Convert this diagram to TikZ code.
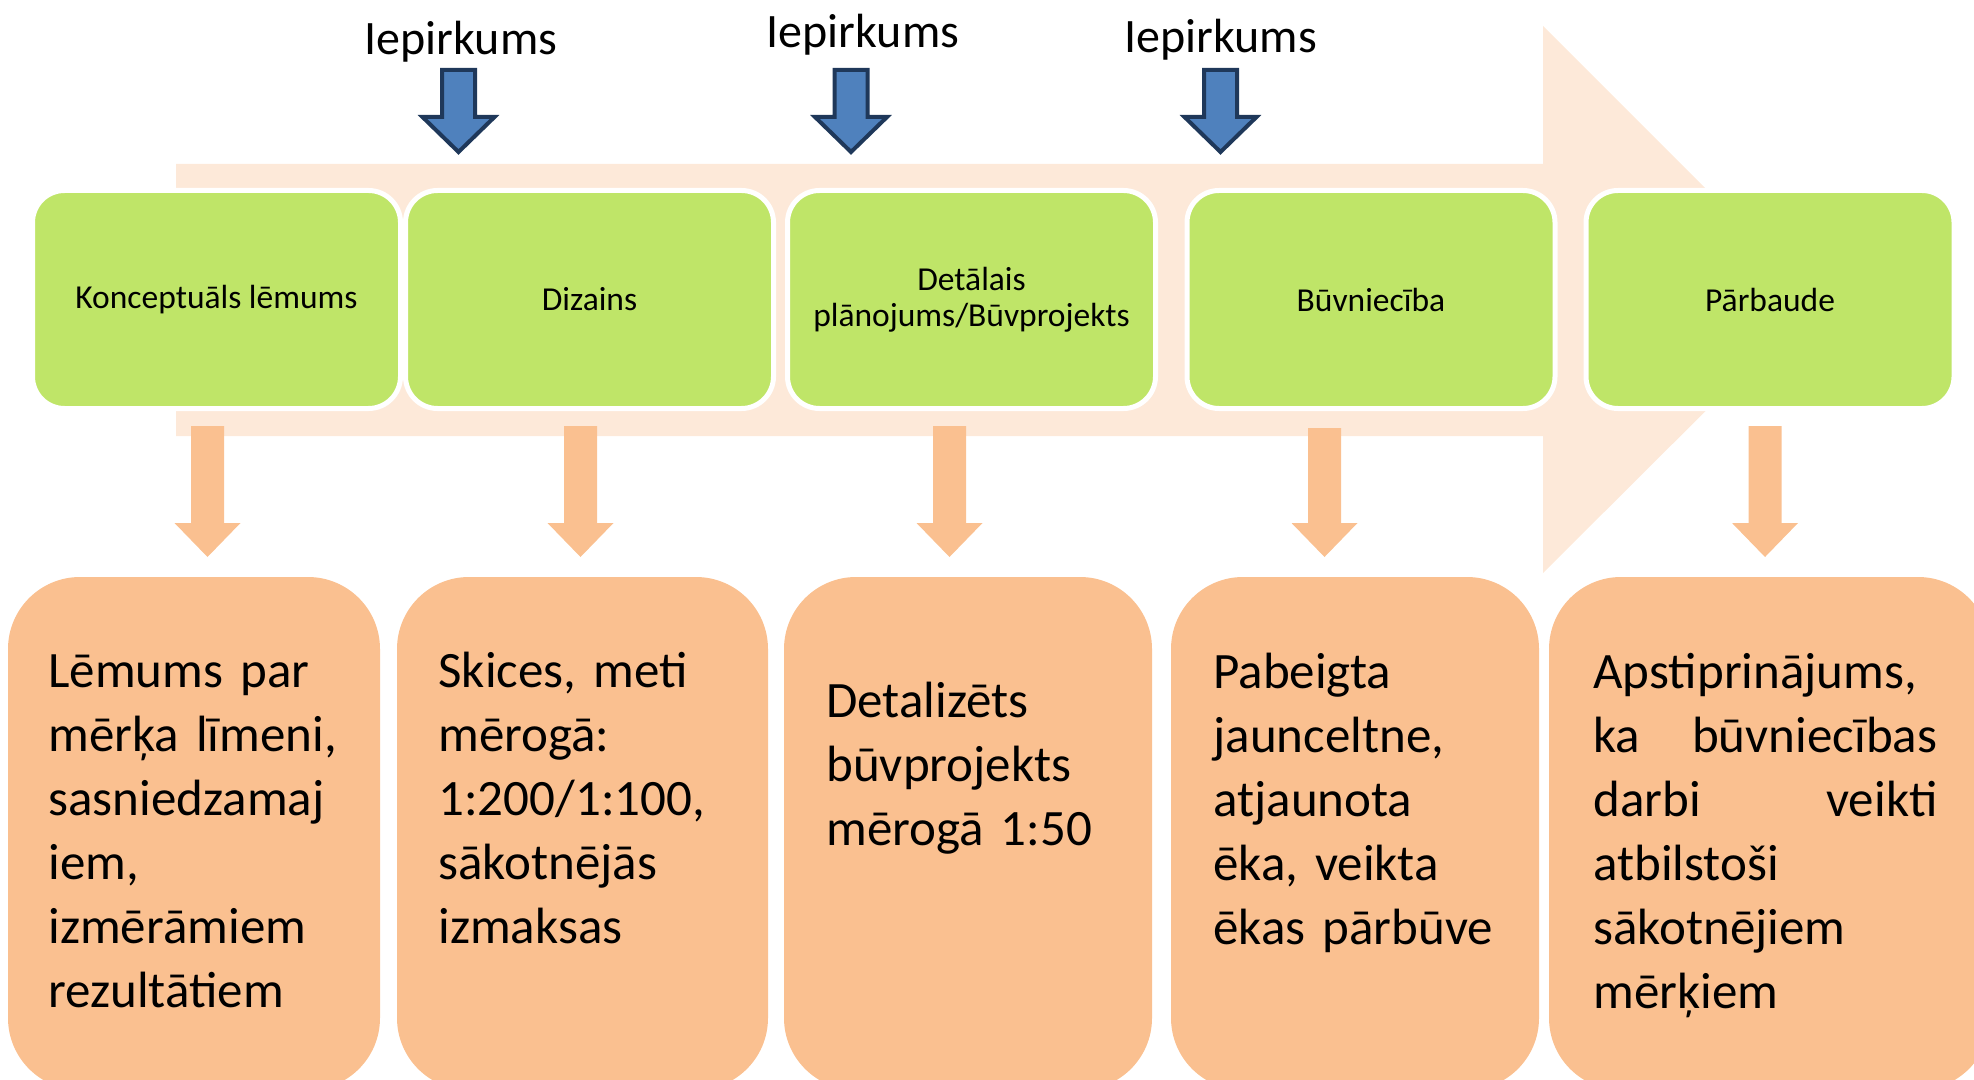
\documentclass[tikz,border=0pt]{standalone}
\usepackage{fontspec}
\setmainfont{Carlito}
\definecolor{peach}{RGB}{253,233,217}
\definecolor{stagegreen}{RGB}{191,229,104}
\definecolor{outorange}{RGB}{250,192,144}
\definecolor{buyblue}{RGB}{79,129,189}
\definecolor{buyline}{RGB}{31,56,90}
\begin{document}
\begin{tikzpicture}[x=0.5pt,y=-0.5pt]
\tikzset{stage/.style={draw=white,line width=2.5pt,fill=stagegreen,rounded corners=16pt,
    minimum width=184pt,minimum height=109pt,inner sep=0pt,align=center,
    font=\fontsize{16.75}{18}\selectfont},
  result/.style={anchor=base west,inner sep=0pt,text width=180pt,align=left,
    font=\fontsize{25.5}{32}\selectfont},
  buyarrow/.style={fill=buyblue,draw=buyline,line width=2pt},
  buylabel/.style={anchor=base,inner sep=0pt,font=\fontsize{24}{28}\selectfont}}
\useasboundingbox (0,0) rectangle (1974,1080);
% background arrow
\fill[peach] (176,164) -- (1543,164) -- (1543,26) -- (1817,300) -- (1543,573) -- (1543,436) -- (176,436) -- cycle;
% stages
\node[stage] (s1) at (216.5,299.5) {Konceptuāls lēmums};
\node[stage] (s2) at (589.5,299.5) {Dizains};
\node[stage] (s3) at (971.5,299.5) {Detālais\\plānojums/Būvprojekts};
\node[stage] (s4) at (1371,299.5) {Būvniecība};
\node[stage] (s5) at (1770,299.5) {Pārbaude};
% procurement
\foreach \i/\cx/\lx/\ly in {1/458.5/461/55, 2/851/863/48, 3/1220.5/1220.5/53}{
  \node[buylabel] (buy\i) at (\lx,\ly) {Iepirkums};
  \draw[buyarrow] (\cx-16.5,70) -- (\cx+16.5,70) -- (\cx+16.5,117) -- (\cx+36,117) -- (\cx,152) -- (\cx-36,117) -- (\cx-16.5,117) -- cycle;
}
% results
\foreach \cx/\top in {207.5/426, 580.5/426, 949.5/426, 1324.5/428, 1765/426}
  \fill[outorange] (\cx-16.5,\top) -- (\cx+16.5,\top) -- (\cx+16.5,523) -- (\cx+33,523) -- (\cx,557) -- (\cx-33,523) -- (\cx-16.5,523) -- cycle;
\foreach \xa/\xb in {8/380, 397/768, 784/1152, 1171/1539, 1549/1990}
  \fill[outorange,rounded corners=36pt] (\xa,577) rectangle (\xb,1090);
\node[result] (r1) at (48,687) {Lēmums par\\mērķa līmeni,\\sasniedzamaj\\iem,\\izmērāmiem\\rezultātiem};
\node[result] (r2) at (438,687) {Skices, meti\\mērogā:\\1:200/1:100,\\sākotnējās\\izmaksas};
\node[result] (r3) at (826,717) {Detalizēts\\būvprojekts\\mērogā 1:50};
\node[result] (r4) at (1213,688) {Pabeigta\\jaunceltne,\\atjaunota\\ēka, veikta\\ēkas pārbūve};
\node[result,text width=172pt] (r5) at (1593,688) {Apstiprinājums,\\ka\hfill būvniecības\\darbi\hfill veikti\\atbilstoši\\sākotnējiem\\mērķiem};
\end{tikzpicture}
\end{document}
